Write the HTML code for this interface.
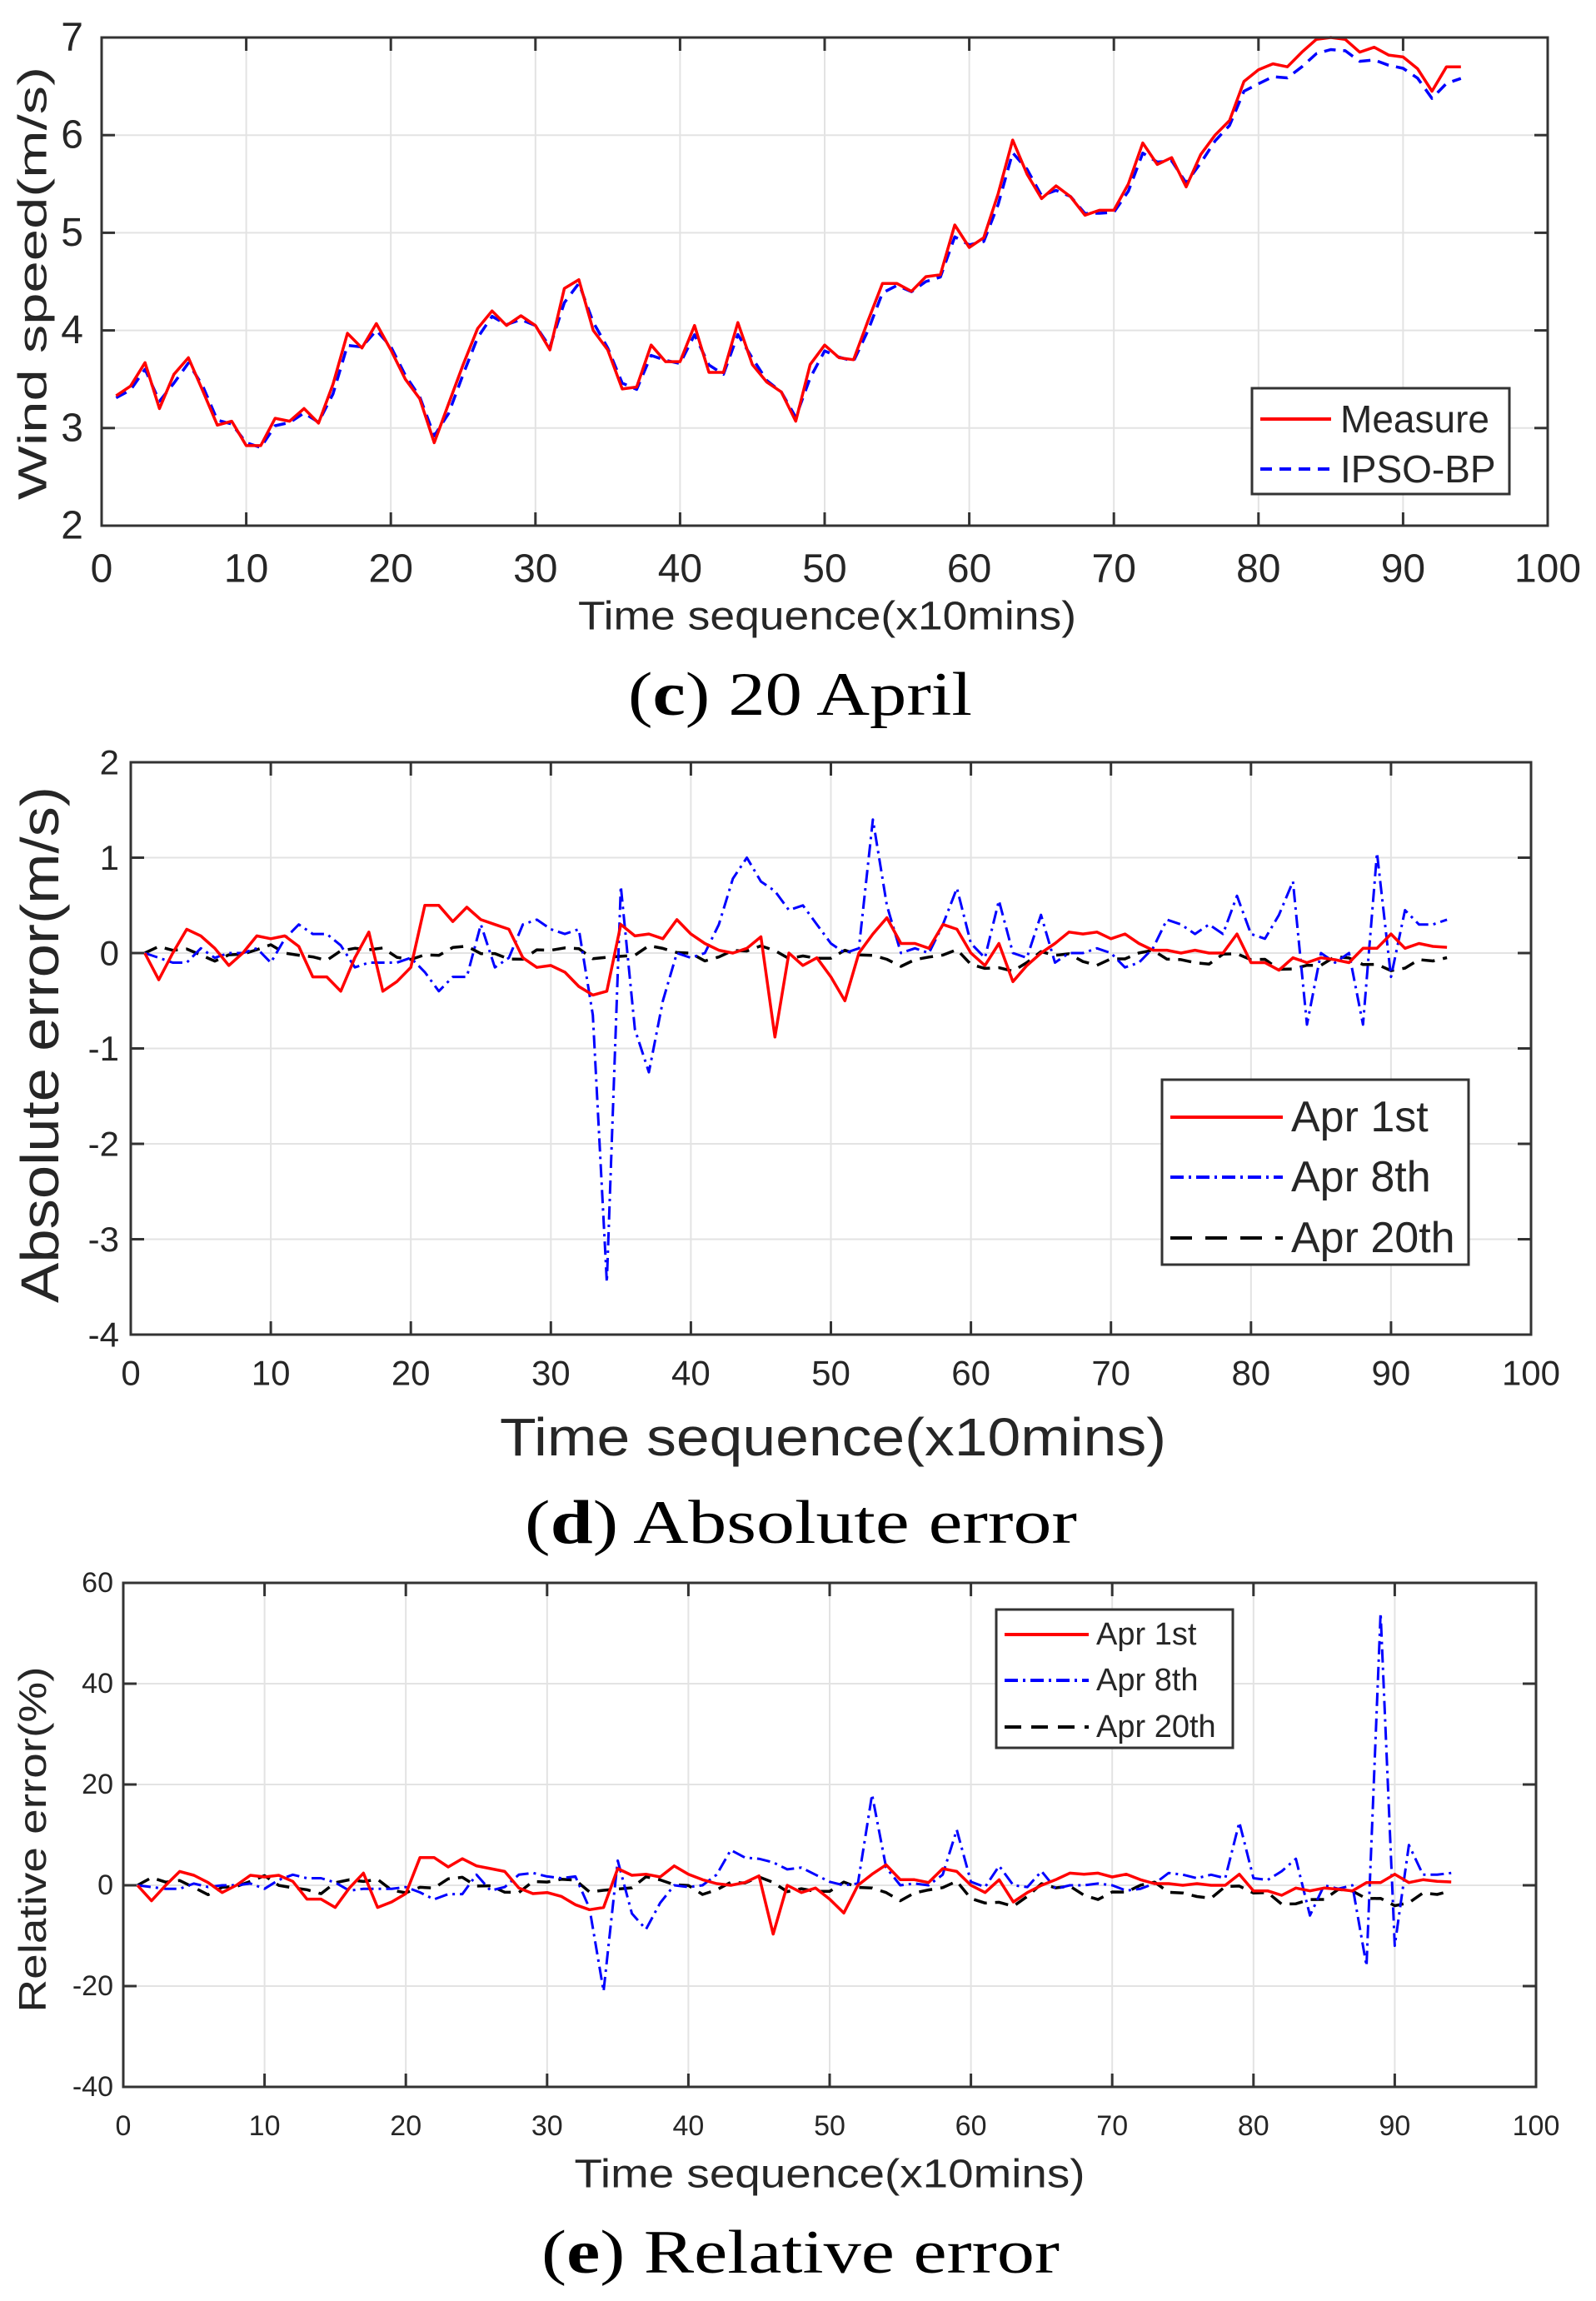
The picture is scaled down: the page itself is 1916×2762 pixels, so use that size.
<!DOCTYPE html>
<html><head><meta charset="utf-8"><style>
html,body{margin:0;padding:0;background:#fff}
svg{display:block}
text{font-family:"Liberation Sans",sans-serif;fill:#262626}
.cap{font-family:"Liberation Serif",serif;fill:#000}
</style></head><body>
<svg id="s" width="1916" height="2762" xmlns="http://www.w3.org/2000/svg"></svg>
<script>
var S=document.getElementById('s'),h='';
function X(c,v){return c.L+(v-0)/(100)*(c.R-c.L);}
function Y(c,v){return c.T+(c.ymax-v)/(c.ymax-c.ymin)*(c.B-c.T);}
function axes(c){
 for(var i=0;i<=10;i++){var x=X(c,i*10);h+='<line x1="'+x+'" y1="'+c.T+'" x2="'+x+'" y2="'+c.B+'" stroke="#e3e3e3" stroke-width="2"/>';}
 for(var v=c.ymin;v<=c.ymax+1e-9;v+=c.ys){var y=Y(c,v);h+='<line x1="'+c.L+'" y1="'+y+'" x2="'+c.R+'" y2="'+y+'" stroke="#e3e3e3" stroke-width="2"/>';}
}
function frame(c){
 h+='<rect x="'+c.L+'" y="'+c.T+'" width="'+(c.R-c.L)+'" height="'+(c.B-c.T)+'" fill="none" stroke="#333" stroke-width="3"/>';
 var tl=16;
 for(var i=0;i<=10;i++){var x=X(c,i*10);
  h+='<line x1="'+x+'" y1="'+c.B+'" x2="'+x+'" y2="'+(c.B-tl)+'" stroke="#333" stroke-width="3"/>';
  h+='<line x1="'+x+'" y1="'+c.T+'" x2="'+x+'" y2="'+(c.T+tl)+'" stroke="#333" stroke-width="3"/>';
  h+='<text x="'+x+'" y="'+c.xty+'" font-size="'+c.tf+'" text-anchor="middle" dominant-baseline="central">'+(i*10)+'</text>';}
 for(var v=c.ymin;v<=c.ymax+1e-9;v+=c.ys){var y=Y(c,v);
  h+='<line x1="'+c.L+'" y1="'+y+'" x2="'+(c.L+tl)+'" y2="'+y+'" stroke="#333" stroke-width="3"/>';
  h+='<line x1="'+c.R+'" y1="'+y+'" x2="'+(c.R-tl)+'" y2="'+y+'" stroke="#333" stroke-width="3"/>';
  h+='<text x="'+(c.L-c.ytg)+'" y="'+y+'" font-size="'+c.tf+'" text-anchor="end" dominant-baseline="central">'+Math.round(v)+'</text>';}
}
function line(c,d,col,dash,w){var p=[];for(var i=0;i<d.length;i++){var v=Math.max(c.ymin,Math.min(c.ymax,d[i]));p.push(X(c,i+1).toFixed(1)+','+Y(c,v).toFixed(1));}
 h+='<polyline points="'+p.join(' ')+'" fill="none" stroke="'+col+'" stroke-width="'+(w||3.5)+'" stroke-linejoin="round"'+(dash?' stroke-dasharray="'+dash+'"':'')+'/>';}
function txt(x,y,s,fs,tl,cls,rot){h+='<text x="'+x+'" y="'+y+'" font-size="'+fs+'" text-anchor="middle" dominant-baseline="central"'+(tl?' textLength="'+tl+'" lengthAdjust="spacingAndGlyphs"':'')+(cls?' class="'+cls+'"':'')+(rot?' transform="rotate(-90 '+x+' '+y+')"':'')+'>'+s+'</text>';}
function legend(x1,y1,x2,y2,items,lx1,lx2,tx,fs){
 h+='<rect x="'+x1+'" y="'+y1+'" width="'+(x2-x1)+'" height="'+(y2-y1)+'" fill="#fff" stroke="#333" stroke-width="3"/>';
 items.forEach(function(it){h+='<line x1="'+lx1+'" y1="'+it[0]+'" x2="'+lx2+'" y2="'+it[0]+'" stroke="'+it[2]+'" stroke-width="4"'+(it[3]?' stroke-dasharray="'+it[3]+'"':'')+'/>';
  h+='<text x="'+tx+'" y="'+it[0]+'" font-size="'+fs+'" dominant-baseline="central" fill="#000">'+it[1]+'</text>';});
}
var M=[3.33,3.43,3.67,3.2,3.55,3.72,3.38,3.03,3.07,2.82,2.82,3.1,3.07,3.2,3.05,3.45,3.97,3.82,4.07,3.8,3.5,3.3,2.85,3.25,3.65,4.02,4.2,4.05,4.15,4.05,3.8,4.43,4.52,4.0,3.8,3.4,3.42,3.85,3.68,3.68,4.05,3.57,3.57,4.08,3.65,3.47,3.37,3.07,3.65,3.85,3.72,3.7,4.1,4.48,4.48,4.4,4.55,4.57,5.08,4.85,4.95,5.4,5.95,5.6,5.35,5.48,5.37,5.18,5.23,5.23,5.5,5.92,5.7,5.77,5.47,5.8,6.0,6.15,6.55,6.67,6.73,6.7,6.85,6.98,7.0,6.98,6.85,6.9,6.82,6.8,6.68,6.45,6.7,6.7];
var P=M.map(function(v,i){var p=i?M[i-1]:v;return 0.8*v+0.2*p-0.02-(i>78?0.1:0);});
var A1=[0,-0.28,0,0.25,0.18,0.05,-0.13,0,0.18,0.15,0.18,0.07,-0.25,-0.25,-0.4,-0.05,0.22,-0.4,-0.3,-0.15,0.5,0.5,0.33,0.48,0.35,0.3,0.25,-0.05,-0.15,-0.13,-0.2,-0.35,-0.44,-0.4,0.3,0.18,0.2,0.15,0.35,0.2,0.1,0.03,0,0.05,0.17,-0.88,0,-0.13,-0.05,-0.25,-0.5,0,0.2,0.37,0.1,0.1,0.05,0.3,0.25,0,-0.13,0.1,-0.3,-0.13,0,0.1,0.22,0.2,0.22,0.15,0.2,0.1,0.03,0.03,0,0.03,0,0,0.2,-0.1,-0.1,-0.18,-0.05,-0.1,-0.05,-0.07,-0.1,0.05,0.05,0.2,0.05,0.1,0.07,0.06];
var A8=[0,-0.05,-0.1,-0.1,0.05,-0.05,0,0,0.05,-0.1,0.15,0.3,0.2,0.2,0.08,-0.15,-0.1,-0.1,-0.1,-0.05,-0.2,-0.4,-0.25,-0.25,0.3,-0.15,-0.05,0.3,0.35,0.25,0.2,0.25,-0.65,-3.45,0.7,-0.8,-1.25,-0.5,0,-0.05,0,0.3,0.78,1.0,0.75,0.65,0.45,0.5,0.3,0.1,0,0.05,1.4,0.5,0,0.05,0,0.3,0.68,0.1,-0.05,0.55,0,-0.05,0.4,-0.1,0,0,0.05,0,-0.15,-0.1,0.05,0.35,0.3,0.2,0.3,0.2,0.6,0.2,0.15,0.4,0.75,-0.75,0,-0.1,0,-0.75,1.05,-0.25,0.45,0.3,0.3,0.35];
var A20=M.map(function(v,i){return 0.06*Math.sin(i*0.9)+0.03*Math.sin(i*2.3)-(i>48?0.05:0)-(i>78?0.06:0)-(i>58&&i<64?0.07:0);});
var R1=A1.map(function(v){return v*11;});
var R8=A8.map(function(v){return v*7;});
var ov={33:-21,52:18,58:11,78:12.5,83:-6,87:-16,88:54,89:-12,90:8,42:7,43:5.5};
for(var k in ov)R8[k]=ov[k];
var R20=A20.map(function(v,i){return v*22;});

var c={L:122,R:1858,T:45,B:631,ymin:2,ymax:7,ys:1,tf:48,xty:683,ytg:22};
axes(c);line(c,P,'#0000ff','14 9',3.5);line(c,M,'#ff0000','',3.5);frame(c);
legend(1503,466,1812,593,[[503,'Measure','#ff0000',''],[563,'IPSO-BP','#0000ff','14 9']],1513,1598,1609,46);
txt(40,340,'Wind speed(m/s)',48,520,'',1);
txt(993,740,'Time sequence(x10mins)',48,598);
h+='<text x="754" y="834" font-size="74" dominant-baseline="central" class="cap" textLength="413" lengthAdjust="spacingAndGlyphs">(<tspan font-weight="bold">c</tspan>) 20 April</text>';

var d={L:157,R:1838,T:915,B:1602,ymin:-4,ymax:2,ys:1,tf:42,xty:1648,ytg:14};
axes(d);line(d,A20,'#000','16 10',3.5);line(d,A8,'#0000ff','16 6 3 6',3);line(d,A1,'#ff0000','',3.5);frame(d);
legend(1395,1296,1763,1518,[[1341,'Apr 1st','#ff0000',''],[1413,'Apr 8th','#0000ff','16 6 3 6'],[1486,'Apr 20th','#000','26 16']],1405,1540,1550,52);
txt(48,1254,'Absolute error(m/s)',64,620,'',1);
txt(1000,1725,'Time sequence(x10mins)',64,800);
h+='<text x="630" y="1828" font-size="74" dominant-baseline="central" class="cap" textLength="663" lengthAdjust="spacingAndGlyphs">(<tspan font-weight="bold">d</tspan>) Absolute error</text>';

var e={L:148,R:1844,T:1900,B:2505,ymin:-40,ymax:60,ys:20,tf:34,xty:2552,ytg:12};
axes(e);line(e,R20,'#000','16 10',3.5);line(e,R8,'#0000ff','16 6 3 6',3);line(e,R1,'#ff0000','',3.5);frame(e);
legend(1196,1932,1480,2098,[[1962,'Apr 1st','#ff0000',''],[2017,'Apr 8th','#0000ff','16 6 3 6'],[2073,'Apr 20th','#000','20 12']],1206,1307,1316,38);
txt(39,2208,'Relative error(%)',46,415,'',1);
txt(996,2610,'Time sequence(x10mins)',48,613);
h+='<text x="650" y="2704" font-size="74" dominant-baseline="central" class="cap" textLength="622" lengthAdjust="spacingAndGlyphs">(<tspan font-weight="bold">e</tspan>) Relative error</text>';
S.innerHTML=h;
</script>
</body></html>
